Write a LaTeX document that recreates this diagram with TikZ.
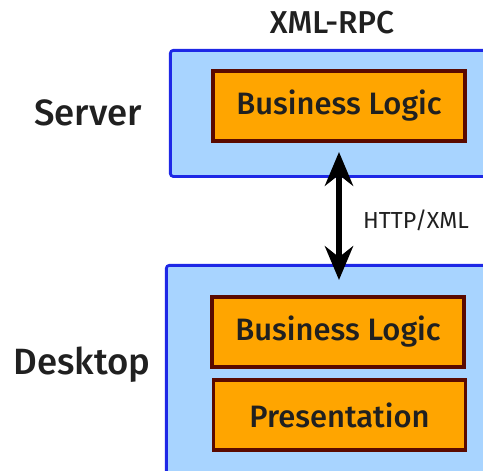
\documentclass[tikz,border=0pt]{standalone}
\usepackage{fontspec}
\setmainfont{Fira Sans}[UprightFont=* Medium]
\newfontfamily\plainfont{Fira Sans}
\usetikzlibrary{arrows.meta}
\definecolor{tierfill}{HTML}{A8D4FF}
\definecolor{tierline}{HTML}{1E28E6}
\definecolor{partfill}{HTML}{FFA500}
\definecolor{partline}{HTML}{5A0A00}
\definecolor{ink}{HTML}{202020}
\tikzset{
  tier/.style={draw=tierline, fill=tierfill, line width=2pt, rounded corners=2pt,
    anchor=north west, inner sep=0pt},
  part/.style={draw=partline, fill=partfill, line width=2.4pt, inner sep=0pt, text=ink,
    minimum width=6.3cm, minimum height=1.75cm, font=\fontsize{22}{26}\selectfont},
  tiername/.style={text=ink, font=\fontsize{26}{30}\selectfont},
  link/.style={line width=4pt, {Stealth[length=24pt,width=20pt]}-{Stealth[length=24pt,width=20pt]}},
}
\begin{document}
\begin{tikzpicture}[x=0.025cm, y=-0.025cm]
\useasboundingbox (0,0) rectangle (483,471);
\clip (0,0) rectangle (483,471);
% tiers
\node[tier, minimum width=8.5cm, minimum height=3.15cm] (server) at (169,49) {};
\node[tier, minimum width=8.7cm, minimum height=6cm] (desktop) at (165,264) {};
\node[tiername] (servername) at (88,113) {Server};
\node[tiername] (desktopname) at (82,365) {Desktop};
\node[text=ink, font=\fontsize{22.5}{26}\selectfont] (protocol) at (332,23) {XML-RPC};
% parts
\node[part] (srvlogic) at (339,106) {Business Logic};
\node[part] (desklogic) at (338,332) {Business Logic};
\node[part] (present) at (339.5,415) {Presentation};
% connection
\coordinate (up) at (339,152);
\coordinate (down) at (339,280);
\draw[link] (up) -- (down);
\node[text=ink, font=\plainfont\fontsize{16.5}{20}\selectfont] (transport) at (416,220) {HTTP/XML};
\end{tikzpicture}
\end{document}
